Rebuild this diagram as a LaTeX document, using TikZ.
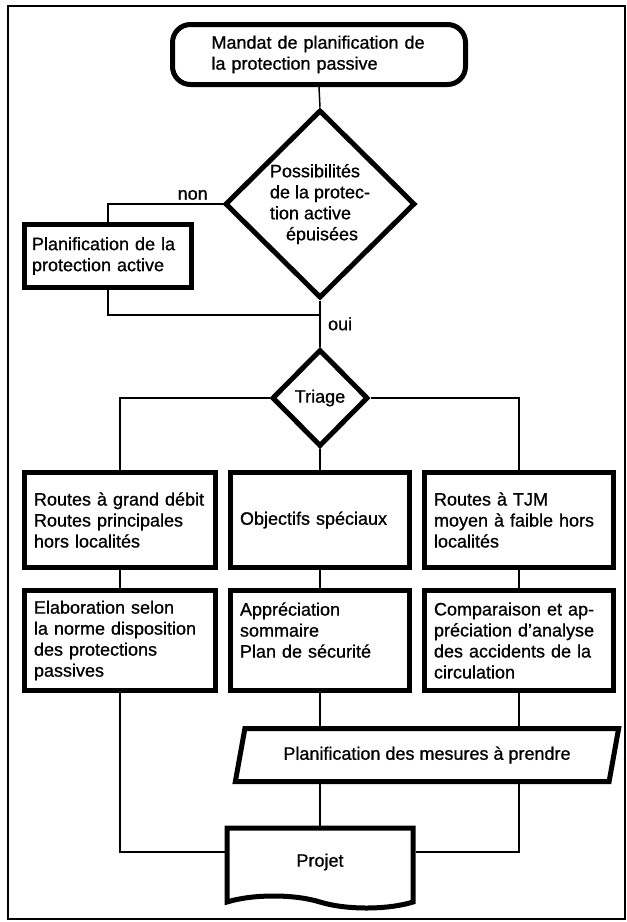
\documentclass[tikz,border=0pt]{standalone}
\usepackage{fontspec}
\setmainfont{Liberation Sans}[FakeBold=0.9]
\usetikzlibrary{shapes.geometric,shapes.symbols}

\tikzset{
  txt/.style={font=\fontsize{18}{21}\selectfont, align=left},
  thickbox/.style={txt, draw, rectangle, line width=5pt, inner sep=3pt},
  startbox/.style={thickbox, rounded corners=18pt},
  decision/.style={txt, draw, diamond, line width=5pt, inner sep=0pt},
  link/.style={line width=1.5pt},
}

\begin{document}
\begin{tikzpicture}[x=1pt, y=-1pt]
\useasboundingbox (0,0) rectangle (627,922);
\draw[line width=1.3pt] (8,6) rectangle (625,919);

\node[startbox, minimum width=293pt, minimum height=60pt, text width=215pt] (mandat) at (319,54.5) {Mandat de planification de\\la protection passive};
\node[decision, minimum width=190pt, minimum height=188pt] (possib) at (320,204) {Possibilités\\de la protec-\\tion active\\\hspace{16pt}épuisées};
\node[thickbox, minimum width=167pt, minimum height=63pt, text width=152pt] (active) at (108,256) {Planification de la\\protection active};
\coordinate (merge) at (320,315);
\node[decision, minimum width=96pt, minimum height=97pt] (triage) at (320,398) {Triage};

\node[thickbox, minimum width=191pt, minimum height=95pt, text width=172pt] (grand) at (120,520) {Routes à grand débit\\Routes principales\\hors localités};
\node[thickbox, minimum width=179pt, minimum height=95pt, text width=160pt] (special) at (320,520) {Objectifs spéciaux};
\node[thickbox, minimum width=189pt, minimum height=95pt, text width=170pt] (tjm) at (519,520) {Routes à TJM\\moyen à faible hors\\localités};

\node[thickbox, minimum width=191pt, minimum height=100pt, text width=172pt] (elab) at (120,640.5) {Elaboration selon\\la norme disposition\\des protections\\passives};
\node[thickbox, minimum width=179pt, minimum height=100pt, text width=160pt] (appre) at (320,640.5) {Appréciation\\sommaire\\Plan de sécurité\\~};
\node[thickbox, minimum width=189pt, minimum height=100pt, text width=170pt] (compare) at (519,640.5) {Comparaison et ap-\\préciation d'analyse\\des accidents de la\\circulation};

\node[txt, draw, trapezium, trapezium left angle=72, trapezium right angle=108, trapezium stretches=true, line width=5pt, minimum width=385pt, minimum height=53pt, align=center] (mesures) at (427,755) {Planification des mesures à prendre};
\node[txt, draw, tape, tape bend top=none, tape bend bottom=out and in, tape bend height=12pt, line width=5pt, minimum width=186pt, minimum height=80pt] (projet) at (320,862) {Projet};

\draw[link] (mandat.south) -- (possib.north);
\draw[link] (possib.west) -| (active.north) node[txt, pos=0.13, above] (nonlbl) {non};
\draw[link] (active.south) |- (merge);
\draw[link] (possib.south) -- (triage.north) node[txt, midway, right, xshift=4pt] (ouilbl) {oui};
\draw[link] (triage.west) -| (grand.north);
\draw[link] (triage.south) -- (special.north);
\draw[link] (triage.east) -| (tjm.north);
\draw[link] (grand.south) -- (elab.north);
\draw[link] (special.south) -- (appre.north);
\draw[link] (tjm.south) -- (compare.north);
\draw[link] (appre.south) -- (appre.south |- mesures.north);
\draw[link] (compare.south) -- (compare.south |- mesures.north);
\draw[link] (elab.south) |- ([yshift=10pt]projet.west);
\draw[link] (mesures.south -| compare.south) |- ([yshift=10pt]projet.east);
\draw[link] (mesures.south -| projet.north) -- (projet.north);
\end{tikzpicture}
\end{document}
